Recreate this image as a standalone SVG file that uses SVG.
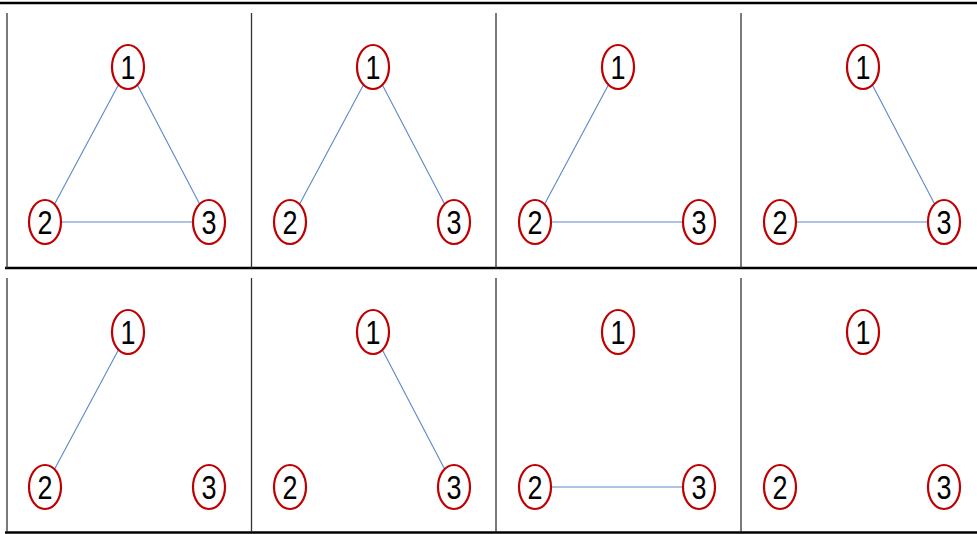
<svg xmlns="http://www.w3.org/2000/svg" width="977" height="534" viewBox="0 0 977 534">
<style>
.frame{stroke:#000;stroke-width:2.5;fill:none}
.div{stroke:#333;stroke-width:1.3;fill:none}
.edge{stroke:#5B87C8;stroke-width:1.1;fill:none}
.node ellipse{fill:#fff;stroke:#C00000;stroke-width:2.2}
.node text{font-family:"Liberation Sans",Arial,sans-serif;font-size:34px;fill:#000;text-anchor:middle}
</style>
<rect width="977" height="534" fill="#fff"/>
<g id="frame">
<line class="frame" x1="0" y1="3" x2="977" y2="3"/>
<line class="frame" x1="5" y1="268" x2="977" y2="268"/>
<line class="frame" x1="5" y1="532.5" x2="977" y2="532.5"/>
<line class="div" x1="7" y1="13" x2="7" y2="268"/>
<line class="div" x1="251.5" y1="13" x2="251.5" y2="268"/>
<line class="div" x1="496" y1="13" x2="496" y2="268"/>
<line class="div" x1="741" y1="13" x2="741" y2="268"/>
<line class="div" x1="7" y1="278" x2="7" y2="532"/>
<line class="div" x1="251.5" y1="278" x2="251.5" y2="532"/>
<line class="div" x1="496" y1="278" x2="496" y2="532"/>
<line class="div" x1="741" y1="278" x2="741" y2="532"/>
</g>
<g id="connectors">
<line class="edge" x1="128" y1="67" x2="45" y2="222"/>
<line class="edge" x1="128" y1="67" x2="209" y2="222"/>
<line class="edge" x1="45" y1="222" x2="209" y2="222"/>
<line class="edge" x1="373" y1="67" x2="290" y2="222"/>
<line class="edge" x1="373" y1="67" x2="454" y2="222"/>
<line class="edge" x1="618" y1="67" x2="535" y2="222"/>
<line class="edge" x1="535" y1="222" x2="699" y2="222"/>
<line class="edge" x1="863" y1="67" x2="944" y2="222"/>
<line class="edge" x1="780" y1="222" x2="944" y2="222"/>
<line class="edge" x1="128" y1="332" x2="45" y2="487"/>
<line class="edge" x1="373" y1="332" x2="454" y2="487"/>
<line class="edge" x1="535" y1="487" x2="699" y2="487"/>
</g>
<g id="p1n1" class="node"><ellipse cx="128" cy="67" rx="16" ry="22"/><text x="128" y="79" textLength="15" lengthAdjust="spacingAndGlyphs">1</text></g>
<g id="p1n2" class="node"><ellipse cx="45" cy="222" rx="16" ry="22"/><text x="45" y="234" textLength="15" lengthAdjust="spacingAndGlyphs">2</text></g>
<g id="p1n3" class="node"><ellipse cx="209" cy="222" rx="16" ry="22"/><text x="209" y="234" textLength="15" lengthAdjust="spacingAndGlyphs">3</text></g>
<g id="p2n1" class="node"><ellipse cx="373" cy="67" rx="16" ry="22"/><text x="373" y="79" textLength="15" lengthAdjust="spacingAndGlyphs">1</text></g>
<g id="p2n2" class="node"><ellipse cx="290" cy="222" rx="16" ry="22"/><text x="290" y="234" textLength="15" lengthAdjust="spacingAndGlyphs">2</text></g>
<g id="p2n3" class="node"><ellipse cx="454" cy="222" rx="16" ry="22"/><text x="454" y="234" textLength="15" lengthAdjust="spacingAndGlyphs">3</text></g>
<g id="p3n1" class="node"><ellipse cx="618" cy="67" rx="16" ry="22"/><text x="618" y="79" textLength="15" lengthAdjust="spacingAndGlyphs">1</text></g>
<g id="p3n2" class="node"><ellipse cx="535" cy="222" rx="16" ry="22"/><text x="535" y="234" textLength="15" lengthAdjust="spacingAndGlyphs">2</text></g>
<g id="p3n3" class="node"><ellipse cx="699" cy="222" rx="16" ry="22"/><text x="699" y="234" textLength="15" lengthAdjust="spacingAndGlyphs">3</text></g>
<g id="p4n1" class="node"><ellipse cx="863" cy="67" rx="16" ry="22"/><text x="863" y="79" textLength="15" lengthAdjust="spacingAndGlyphs">1</text></g>
<g id="p4n2" class="node"><ellipse cx="780" cy="222" rx="16" ry="22"/><text x="780" y="234" textLength="15" lengthAdjust="spacingAndGlyphs">2</text></g>
<g id="p4n3" class="node"><ellipse cx="944" cy="222" rx="16" ry="22"/><text x="944" y="234" textLength="15" lengthAdjust="spacingAndGlyphs">3</text></g>
<g id="p5n1" class="node"><ellipse cx="128" cy="332" rx="16" ry="22"/><text x="128" y="344" textLength="15" lengthAdjust="spacingAndGlyphs">1</text></g>
<g id="p5n2" class="node"><ellipse cx="45" cy="487" rx="16" ry="22"/><text x="45" y="499" textLength="15" lengthAdjust="spacingAndGlyphs">2</text></g>
<g id="p5n3" class="node"><ellipse cx="209" cy="487" rx="16" ry="22"/><text x="209" y="499" textLength="15" lengthAdjust="spacingAndGlyphs">3</text></g>
<g id="p6n1" class="node"><ellipse cx="373" cy="332" rx="16" ry="22"/><text x="373" y="344" textLength="15" lengthAdjust="spacingAndGlyphs">1</text></g>
<g id="p6n2" class="node"><ellipse cx="290" cy="487" rx="16" ry="22"/><text x="290" y="499" textLength="15" lengthAdjust="spacingAndGlyphs">2</text></g>
<g id="p6n3" class="node"><ellipse cx="454" cy="487" rx="16" ry="22"/><text x="454" y="499" textLength="15" lengthAdjust="spacingAndGlyphs">3</text></g>
<g id="p7n1" class="node"><ellipse cx="618" cy="332" rx="16" ry="22"/><text x="618" y="344" textLength="15" lengthAdjust="spacingAndGlyphs">1</text></g>
<g id="p7n2" class="node"><ellipse cx="535" cy="487" rx="16" ry="22"/><text x="535" y="499" textLength="15" lengthAdjust="spacingAndGlyphs">2</text></g>
<g id="p7n3" class="node"><ellipse cx="699" cy="487" rx="16" ry="22"/><text x="699" y="499" textLength="15" lengthAdjust="spacingAndGlyphs">3</text></g>
<g id="p8n1" class="node"><ellipse cx="863" cy="332" rx="16" ry="22"/><text x="863" y="344" textLength="15" lengthAdjust="spacingAndGlyphs">1</text></g>
<g id="p8n2" class="node"><ellipse cx="780" cy="487" rx="16" ry="22"/><text x="780" y="499" textLength="15" lengthAdjust="spacingAndGlyphs">2</text></g>
<g id="p8n3" class="node"><ellipse cx="944" cy="487" rx="16" ry="22"/><text x="944" y="499" textLength="15" lengthAdjust="spacingAndGlyphs">3</text></g>
</svg>
